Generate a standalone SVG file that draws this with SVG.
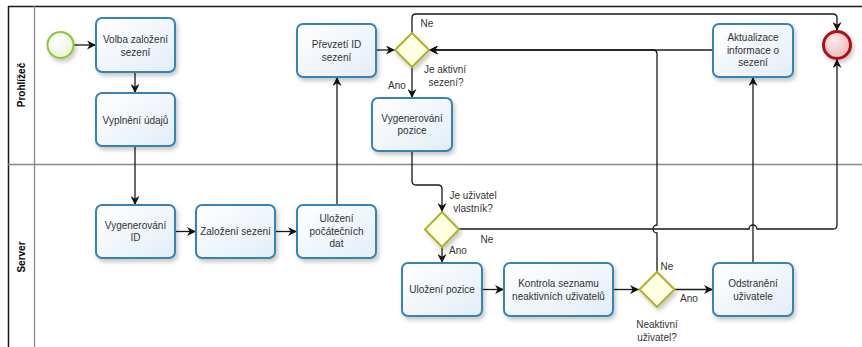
<svg xmlns="http://www.w3.org/2000/svg" width="862" height="347" viewBox="0 0 862 347">
  <defs>
    <linearGradient id="taskFill" x1="0" y1="0" x2="1" y2="1">
      <stop offset="0" stop-color="#ffffff"/>
      <stop offset="1" stop-color="#e3edf8"/>
    </linearGradient>
    <radialGradient id="endFill" cx="0.4" cy="0.35" r="0.7">
      <stop offset="0" stop-color="#fbeaea"/>
      <stop offset="1" stop-color="#eab7ba"/>
    </radialGradient>
    <radialGradient id="startFill" cx="0.4" cy="0.35" r="0.7">
      <stop offset="0" stop-color="#ffffff"/>
      <stop offset="1" stop-color="#e6f4d4"/>
    </radialGradient>
    <filter id="shadow" x="-20%" y="-20%" width="150%" height="160%">
      <feDropShadow dx="2" dy="3" stdDeviation="2" flood-color="#000" flood-opacity="0.22"/>
    </filter>
    <marker id="arrow" viewBox="0 0 10 10" refX="10" refY="5" markerWidth="9" markerHeight="9" markerUnits="userSpaceOnUse" orient="auto">
      <path d="M0,0 L10,5 L0,10 L3,5 Z" fill="#111"/>
    </marker>
  </defs>
  <style>
    .task { fill: url(#taskFill); stroke: #3584b5; stroke-width: 2; filter: url(#shadow); }
    .gw { fill: #ffffe3; stroke: #b1b12a; stroke-width: 2; filter: url(#shadow); }
    .flow { fill: none; stroke: #1a1a1a; stroke-width: 1.3; }
    .flow-arrow { fill: none; stroke: #1a1a1a; stroke-width: 1.3; marker-end: url(#arrow); }
    .t { font-family: "Liberation Sans", Arial, sans-serif; font-size: 10px; fill: #333; text-anchor: middle; }
    .lane { font-family: "Liberation Sans", Arial, sans-serif; font-size: 10px; font-weight: bold; fill: #000; text-anchor: middle; }
  </style>

  <!-- pool and lanes -->
  <g id="pool">
    <rect x="0" y="0" width="862" height="347" fill="#ffffff"/>
    <line x1="8" y1="6.5" x2="862" y2="6.5" stroke="#1a1a1a" stroke-width="1.3"/>
    <line x1="8.5" y1="6" x2="8.5" y2="347" stroke="#1a1a1a" stroke-width="1.5"/>
    <line x1="34.5" y1="6" x2="34.5" y2="347" stroke="#888" stroke-width="1.3"/>
    <line x1="8" y1="164.5" x2="862" y2="164.5" stroke="#888" stroke-width="1.3"/>
    <text class="lane" transform="translate(25,85) rotate(-90)">Prohlížeč</text>
    <text class="lane" transform="translate(25,257) rotate(-90)">Server</text>
  </g>

  <!-- sequence flows -->
  <g id="connectors">
    <path class="flow-arrow" d="M73,45 H96"/>
    <path class="flow-arrow" d="M135,72 V93"/>
    <path class="flow-arrow" d="M135,146 V205"/>
    <path class="flow-arrow" d="M175,231.5 H196"/>
    <path class="flow-arrow" d="M275,231.5 H297"/>
    <path class="flow-arrow" d="M337,205 V77"/>
    <path class="flow-arrow" d="M376,50 H395"/>
    <path class="flow-arrow" d="M412,67 V98"/>
    <path class="flow-arrow" d="M412,33 V18 Q412,14 416,14 H833 Q837,14 837,18 V31"/>
    <path class="flow-arrow" d="M713,50 H429"/>
    <path class="flow-arrow" d="M412,151 V181 Q412,185 416,185 H438 Q442,185 442,189 V212"/>
    <path class="flow-arrow" d="M442,247 V263"/>
    <path class="flow-arrow" d="M459,229 H749 A4,4 0 0 1 757,229 H833 Q837,229 837,225 V59"/>
    <path class="flow-arrow" d="M482,289.5 H504"/>
    <path class="flow-arrow" d="M613,289.5 H639"/>
    <path class="flow-arrow" d="M674,289.5 H713"/>
    <path class="flow-arrow" d="M657,272 V233 A4,4 0 0 1 657,225 V54 Q657,50 653,50 H429"/>
    <path class="flow-arrow" d="M753,263 V77"/>
  </g>

  <!-- connector labels -->
  <g id="labels">
    <text class="t" x="427" y="27">Ne</text>
    <text class="t" x="445" y="73">Je aktivní</text>
    <text class="t" x="446" y="86">sezení?</text>
    <text class="t" x="397" y="89">Ano</text>
    <text class="t" x="473" y="199">Je uživatel</text>
    <text class="t" x="473" y="212">vlastník?</text>
    <text class="t" x="487" y="243">Ne</text>
    <text class="t" x="458" y="254">Ano</text>
    <text class="t" x="667" y="270">Ne</text>
    <text class="t" x="689" y="302">Ano</text>
    <text class="t" x="657" y="328">Neaktivní</text>
    <text class="t" x="657" y="341">uživatel?</text>
  </g>

  <g id="start">
    <circle cx="60.5" cy="45" r="13" fill="url(#startFill)" stroke="#8cc63e" stroke-width="2" filter="url(#shadow)"/>
  </g>

  <g id="end">
    <circle cx="837" cy="45" r="13.5" fill="url(#endFill)" stroke="#b40f12" stroke-width="3" filter="url(#shadow)"/>
  </g>

  <g id="volba">
    <rect class="task" x="96" y="18" width="79" height="54" rx="6"/>
    <text class="t" x="135.5" y="42.5">Volba založení</text>
    <text class="t" x="135.5" y="55.5">sezení</text>
  </g>

  <g id="vyplneni">
    <rect class="task" x="96" y="93" width="79" height="53" rx="6"/>
    <text class="t" x="135.5" y="123.5">Vyplnění údajů</text>
  </g>

  <g id="vygenerovani-id">
    <rect class="task" x="96" y="205" width="79" height="53" rx="6"/>
    <text class="t" x="135.5" y="228.5">Vygenerování</text>
    <text class="t" x="135.5" y="241">ID</text>
  </g>

  <g id="zalozeni">
    <rect class="task" x="196" y="205" width="79" height="53" rx="6"/>
    <text class="t" x="235.5" y="235">Založení sezení</text>
  </g>

  <g id="ulozeni-dat">
    <rect class="task" x="297" y="205" width="79" height="53" rx="6"/>
    <text class="t" x="336.5" y="221.5">Uložení</text>
    <text class="t" x="336.5" y="234.5">počátečních</text>
    <text class="t" x="336.5" y="247">dat</text>
  </g>

  <g id="prevzeti">
    <rect class="task" x="297" y="24" width="79" height="53" rx="6"/>
    <text class="t" x="336.5" y="47.5">Převzetí ID</text>
    <text class="t" x="336.5" y="60.5">sezení</text>
  </g>

  <g id="gw-aktivni">
    <polygon class="gw" points="412,33 429,50 412,67 395,50"/>
  </g>

  <g id="vygenerovani-pozice">
    <rect class="task" x="372" y="98" width="80" height="53" rx="6"/>
    <text class="t" x="412" y="121.5">Vygenerování</text>
    <text class="t" x="412" y="134">pozice</text>
  </g>

  <g id="aktualizace">
    <rect class="task" x="713" y="24" width="80" height="53" rx="6"/>
    <text class="t" x="753" y="40.5">Aktualizace</text>
    <text class="t" x="753" y="53.5">informace o</text>
    <text class="t" x="753" y="66">sezení</text>
  </g>

  <g id="gw-vlastnik">
    <polygon class="gw" points="442,212 459,229.5 442,247 425,229.5"/>
  </g>

  <g id="ulozeni-pozice">
    <rect class="task" x="402" y="263" width="80" height="53" rx="6"/>
    <text class="t" x="442" y="293">Uložení pozice</text>
  </g>

  <g id="kontrola">
    <rect class="task" x="504" y="263" width="109" height="53" rx="6"/>
    <text class="t" x="558.5" y="286.5">Kontrola seznamu</text>
    <text class="t" x="558.5" y="299.5">neaktivních uživatelů</text>
  </g>

  <g id="gw-neaktivni">
    <polygon class="gw" points="657,272 674.5,289.5 657,307 639.5,289.5"/>
  </g>

  <g id="odstraneni">
    <rect class="task" x="713" y="263" width="80" height="53" rx="6"/>
    <text class="t" x="753" y="286.5">Odstranění</text>
    <text class="t" x="753" y="299.5">uživatele</text>
  </g>
</svg>
